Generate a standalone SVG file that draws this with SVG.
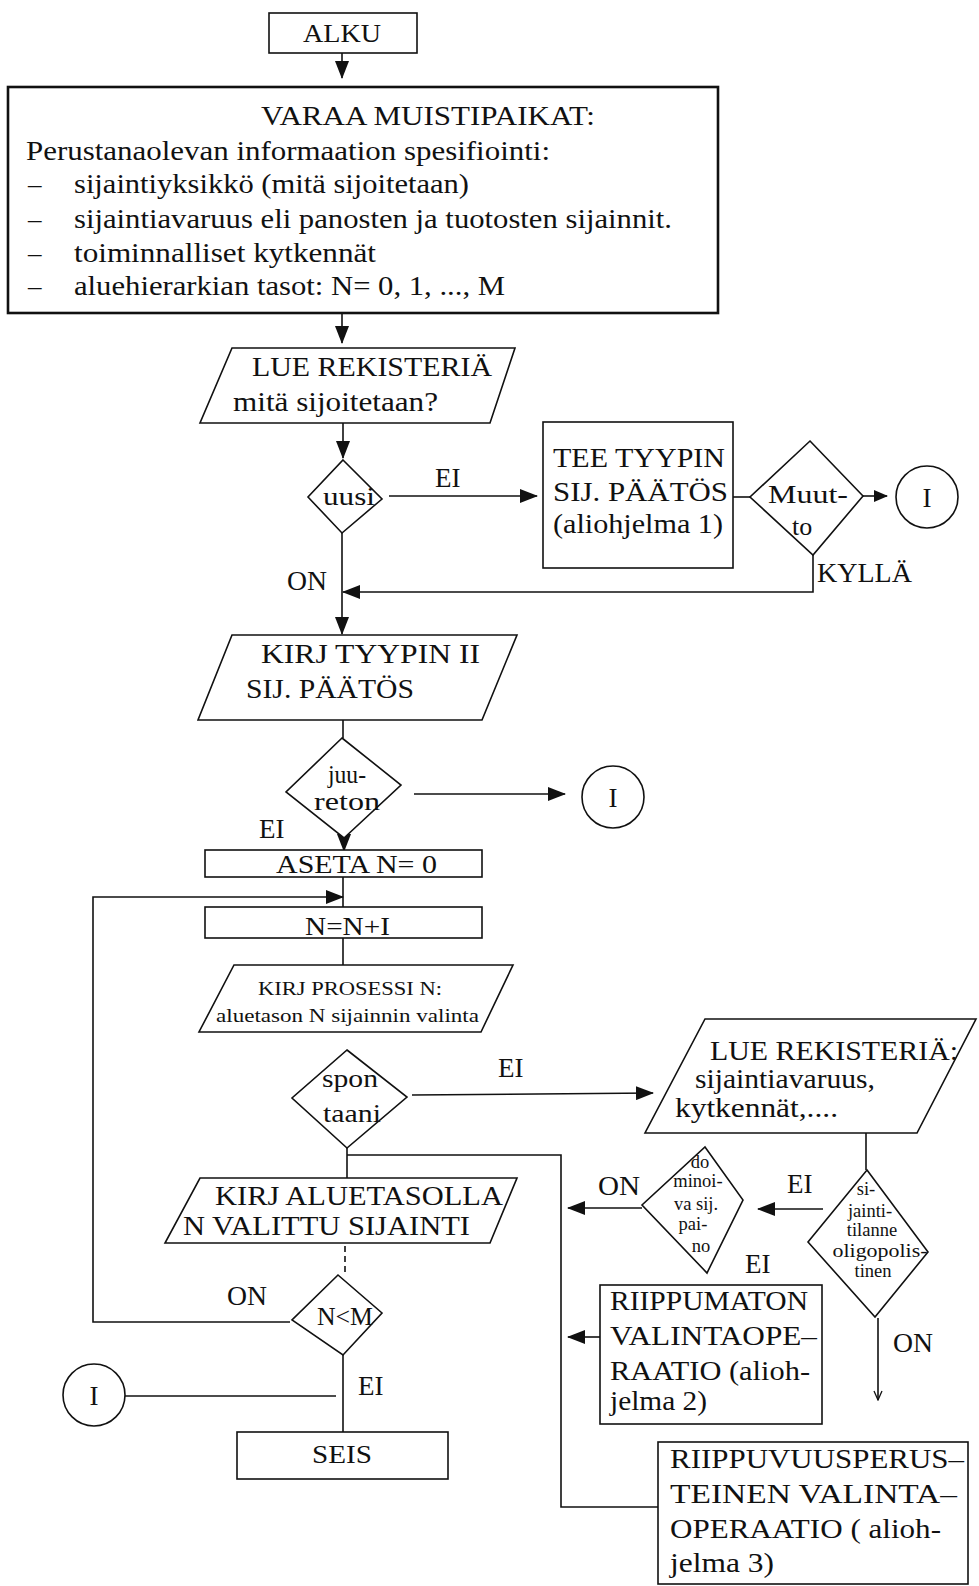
<svg xmlns="http://www.w3.org/2000/svg" width="979" height="1586" viewBox="0 0 979 1586">
<style>
text{font-family:"Liberation Serif","Times New Roman",serif;fill:#111;}
.n{fill:#fff;stroke:#111;stroke-width:1.6;}
.th{fill:#fff;stroke:#111;stroke-width:2.6;}
.c{fill:none;stroke:#111;stroke-width:1.6;}
.f25{font-size:27px;}
.f24{font-size:26px;}
.f26{font-size:27px;}
.f18{font-size:19px;}
.f17{font-size:18.5px;}
.mid{text-anchor:middle;}
</style>
<defs>
<marker id="ah" markerUnits="userSpaceOnUse" markerWidth="18" markerHeight="14" refX="17" refY="7" orient="auto">
<path d="M0,0 L18,7 L0,14 z" fill="#111"/>
</marker>
<marker id="ahs" markerUnits="userSpaceOnUse" markerWidth="14" markerHeight="12" refX="13" refY="6" orient="auto">
<path d="M0,0 L14,6 L0,12 z" fill="#111"/>
</marker>
<marker id="thin" markerUnits="userSpaceOnUse" markerWidth="10" markerHeight="12" refX="5" refY="11" orient="0">
<path d="M1,2 L5,11 L9,2" fill="none" stroke="#111" stroke-width="1.3"/>
</marker>
</defs>
<rect width="979" height="1586" fill="#fff"/>

<g id="connectors">
<line class="c" x1="342" y1="53" x2="342" y2="78" marker-end="url(#ah)"/>
<line class="c" x1="342" y1="313" x2="342" y2="343" stroke-width="2.2" marker-end="url(#ah)"/>
<line class="c" x1="343" y1="423" x2="343" y2="458" marker-end="url(#ah)"/>
<line class="c" x1="389" y1="496" x2="537" y2="496" marker-end="url(#ah)"/>
<line class="c" x1="733" y1="497" x2="750" y2="497"/>
<line class="c" x1="863" y1="496" x2="887" y2="496" marker-end="url(#ahs)"/>
<polyline class="c" points="813,555 813,592 343,592" marker-end="url(#ah)"/>
<line class="c" x1="342" y1="533" x2="342" y2="634" stroke-width="2" marker-end="url(#ah)"/>
<line class="c" x1="343" y1="720" x2="343" y2="738" stroke-width="1"/>
<line class="c" x1="414" y1="794" x2="565" y2="794" marker-end="url(#ah)"/>
<line class="c" x1="344" y1="832" x2="344" y2="851" marker-end="url(#ah)"/>
<line class="c" x1="343" y1="877" x2="343" y2="907"/>
<polyline class="c" points="290,1322 93,1322 93,897 343,897" marker-end="url(#ah)"/>
<line class="c" x1="343" y1="938" x2="343" y2="965"/>
<line class="c" x1="412" y1="1095" x2="653" y2="1093" marker-end="url(#ah)"/>
<line class="c" x1="347" y1="1148" x2="347" y2="1178"/>
<polyline class="c" points="347,1155 561,1155 561,1507 658,1507"/>
<line class="c" x1="345" y1="1246" x2="345" y2="1275" stroke-width="1.2" stroke-dasharray="6,4"/>
<line class="c" x1="343" y1="1355" x2="343" y2="1432" stroke-width="1.3"/>
<line class="c" x1="125" y1="1396" x2="336" y2="1396"/>
<line class="c" x1="866" y1="1133" x2="866" y2="1170"/>
<line class="c" x1="823" y1="1209" x2="758" y2="1209" stroke-width="3" marker-end="url(#ah)"/>
<line class="c" x1="642" y1="1208" x2="568" y2="1208" marker-end="url(#ah)"/>
<line class="c" x1="600" y1="1337" x2="568" y2="1337" marker-end="url(#ah)"/>
<line class="c" x1="878" y1="1318" x2="878" y2="1400" stroke-width="1.3" marker-end="url(#thin)"/>
</g>

<g id="alku">
<rect class="n" x="269" y="13" width="148" height="40"/>
<text class="f24" x="303" y="42" textLength="78" lengthAdjust="spacingAndGlyphs">ALKU</text>
</g>

<g id="varaa">
<rect class="th" x="8" y="87" width="710" height="226"/>
<text class="f25" x="261" y="125" textLength="334" lengthAdjust="spacingAndGlyphs">VARAA MUISTIPAIKAT:</text>
<text class="f25" x="26" y="160" textLength="524" lengthAdjust="spacingAndGlyphs">Perustanaolevan informaation spesifiointi:</text>
<text class="f25" x="28" y="193">–</text>
<text class="f25" x="74" y="193" textLength="395" lengthAdjust="spacingAndGlyphs">sijaintiyksikkö (mitä sijoitetaan)</text>
<text class="f25" x="28" y="228">–</text>
<text class="f25" x="74" y="228" textLength="598" lengthAdjust="spacingAndGlyphs">sijaintiavaruus eli panosten ja tuotosten sijainnit.</text>
<text class="f25" x="28" y="262">–</text>
<text class="f25" x="74" y="262" textLength="302" lengthAdjust="spacingAndGlyphs">toiminnalliset kytkennät</text>
<text class="f25" x="28" y="295">–</text>
<text class="f25" x="74" y="295" textLength="431" lengthAdjust="spacingAndGlyphs">aluehierarkian tasot: N= 0, 1, ..., M</text>
</g>

<g id="lue1">
<polygon class="n" points="232,348 515,348 490,423 200,423"/>
<text class="f25" x="252" y="376" textLength="240" lengthAdjust="spacingAndGlyphs">LUE REKISTERIÄ</text>
<text class="f25" x="233" y="411" textLength="205" lengthAdjust="spacingAndGlyphs">mitä sijoitetaan?</text>
</g>

<g id="uusi">
<polygon class="n" stroke-width="2.4" points="343,460 382,499 342,533 308,497"/>
<text class="f24" x="323" y="505" textLength="52" lengthAdjust="spacingAndGlyphs">uusi</text>
</g>

<g id="tee">
<rect class="n" stroke-width="1.3" x="543" y="422" width="190" height="146"/>
<text class="f25" x="553" y="467" textLength="172" lengthAdjust="spacingAndGlyphs">TEE TYYPIN</text>
<text class="f25" x="553" y="501" textLength="175" lengthAdjust="spacingAndGlyphs">SIJ. PÄÄTÖS</text>
<text class="f25" x="553" y="533" textLength="170" lengthAdjust="spacingAndGlyphs">(aliohjelma 1)</text>
</g>

<g id="muutto">
<polygon class="n" stroke-width="1.3" points="810,441 863,496 813,555 750,497"/>
<text class="f24" x="768" y="503" textLength="80" lengthAdjust="spacingAndGlyphs">Muut-</text>
<text class="f24" x="792" y="535">to</text>
</g>

<g id="i1">
<circle class="n" stroke-width="1.3" cx="927" cy="497" r="31"/>
<text class="f26 mid" x="927" y="507">I</text>
</g>

<g id="kirj1">
<polygon class="n" points="232,635 517,635 482,720 198,720"/>
<text class="f25" x="261" y="663" textLength="219" lengthAdjust="spacingAndGlyphs">KIRJ  TYYPIN II</text>
<text class="f25" x="246" y="698" textLength="168" lengthAdjust="spacingAndGlyphs">SIJ. PÄÄTÖS</text>
</g>

<g id="juureton">
<polygon class="n" stroke-width="1.4" points="342,738 401,785 344,838 286,792"/>
<text class="f24" x="328" y="783" textLength="38" lengthAdjust="spacingAndGlyphs">juu-</text>
<text class="f24" x="314" y="810" textLength="66" lengthAdjust="spacingAndGlyphs">reton</text>
</g>

<g id="i2">
<circle class="n" stroke-width="1.3" cx="613" cy="797" r="31"/>
<text class="f26 mid" x="613" y="807">I</text>
</g>

<g id="aseta">
<rect class="n" x="205" y="850" width="277" height="27"/>
<text class="f24" x="276" y="873" textLength="161" lengthAdjust="spacingAndGlyphs">ASETA N= 0</text>
</g>

<g id="nplus">
<rect class="n" x="205" y="907" width="277" height="31"/>
<text class="f24" x="305" y="935" textLength="85" lengthAdjust="spacingAndGlyphs">N=N+I</text>
</g>

<g id="prosessi">
<polygon class="n" points="234,965 513,965 481,1032 199,1032"/>
<text class="f18" x="258" y="995" textLength="184" lengthAdjust="spacingAndGlyphs">KIRJ PROSESSI N:</text>
<text class="f18" x="216" y="1022" textLength="263" lengthAdjust="spacingAndGlyphs">aluetason N sijainnin  valinta</text>
</g>

<g id="spontaani">
<polygon class="n" stroke-width="1.4" points="347,1050 407,1097 347,1148 292,1098"/>
<text class="f24" x="322" y="1087" textLength="56" lengthAdjust="spacingAndGlyphs">spon</text>
<text class="f24" x="323" y="1122" textLength="58" lengthAdjust="spacingAndGlyphs">taani</text>
</g>

<g id="lue2">
<polygon class="n" stroke-width="2" points="705,1019 976,1019 917,1133 645,1133"/>
<text class="f25" x="710" y="1060" textLength="248" lengthAdjust="spacingAndGlyphs">LUE REKISTERIÄ:</text>
<text class="f25" x="695" y="1088" textLength="180" lengthAdjust="spacingAndGlyphs">sijaintiavaruus,</text>
<text class="f25" x="675" y="1117" textLength="163" lengthAdjust="spacingAndGlyphs">kytkennät,....</text>
</g>

<g id="dominoiva">
<polygon class="n" stroke-width="1.4" points="705,1147 743,1200 707,1273 642,1205"/>
<text class="f17 mid" x="700" y="1168">do</text>
<text class="f17 mid" x="698" y="1187">minoi-</text>
<text class="f17 mid" x="696" y="1210">va sij.</text>
<text class="f17 mid" x="693" y="1230">pai-</text>
<text class="f17 mid" x="701" y="1252">no</text>
</g>

<g id="oligo">
<polygon class="n" stroke-width="1.4" points="867,1170 928,1252 875,1317 808,1242"/>
<text class="f17 mid" x="866" y="1195">si-</text>
<text class="f17 mid" x="870" y="1217">jainti-</text>
<text class="f17 mid" x="872" y="1236">tilanne</text>
<text class="f17 mid" x="880" y="1257" textLength="95" lengthAdjust="spacingAndGlyphs">oligopolis-</text>
<text class="f17 mid" x="873" y="1277">tinen</text>
</g>

<g id="kirj2">
<polygon class="n" points="200,1178 517,1178 490,1243 165,1243"/>
<text class="f26" x="215" y="1205" textLength="288" lengthAdjust="spacingAndGlyphs">KIRJ ALUETASOLLA</text>
<text class="f26" x="183" y="1235" textLength="287" lengthAdjust="spacingAndGlyphs">N VALITTU SIJAINTI</text>
</g>

<g id="nm">
<polygon class="n" stroke-width="1.4" points="338,1275 382,1313 343,1355 292,1320"/>
<text class="f24" x="317" y="1325" textLength="56" lengthAdjust="spacingAndGlyphs">N&lt;M</text>
</g>

<g id="i3">
<circle class="n" stroke-width="1.3" cx="94" cy="1395" r="31"/>
<text class="f26 mid" x="94" y="1405">I</text>
</g>

<g id="seis">
<rect class="n" x="237" y="1432" width="211" height="47"/>
<text class="f24" x="312" y="1463" textLength="60" lengthAdjust="spacingAndGlyphs">SEIS</text>
</g>

<g id="riippumaton">
<rect class="n" stroke-width="1.8" x="600" y="1285" width="222" height="139"/>
<text class="f26" x="610" y="1310" textLength="198" lengthAdjust="spacingAndGlyphs">RIIPPUMATON</text>
<text class="f26" x="610" y="1345" textLength="207" lengthAdjust="spacingAndGlyphs">VALINTAOPE–</text>
<text class="f26" x="610" y="1380" textLength="200" lengthAdjust="spacingAndGlyphs">RAATIO (alioh-</text>
<text class="f26" x="610" y="1410" textLength="97" lengthAdjust="spacingAndGlyphs">jelma 2)</text>
</g>

<g id="riippuvuus">
<rect class="n" stroke-width="1.8" x="658" y="1442" width="310" height="142"/>
<text class="f26" x="670" y="1468" textLength="294" lengthAdjust="spacingAndGlyphs">RIIPPUVUUSPERUS–</text>
<text class="f26" x="670" y="1503" textLength="287" lengthAdjust="spacingAndGlyphs">TEINEN VALINTA–</text>
<text class="f26" x="670" y="1538" textLength="271" lengthAdjust="spacingAndGlyphs">OPERAATIO ( alioh-</text>
<text class="f26" x="670" y="1572" textLength="104" lengthAdjust="spacingAndGlyphs">jelma 3)</text>
</g>

<g id="labels">
<text class="f25" x="435" y="487">EI</text>
<text class="f25" x="287" y="590" textLength="40" lengthAdjust="spacingAndGlyphs">ON</text>
<text class="f25" x="817" y="582" textLength="95" lengthAdjust="spacingAndGlyphs">KYLLÄ</text>
<text class="f25" x="259" y="838">EI</text>
<text class="f25" x="498" y="1077">EI</text>
<text class="f25" x="787" y="1193">EI</text>
<text class="f25" x="598" y="1195" textLength="42" lengthAdjust="spacingAndGlyphs">ON</text>
<text class="f25" x="745" y="1273">EI</text>
<text class="f25" x="893" y="1352" textLength="40" lengthAdjust="spacingAndGlyphs">ON</text>
<text class="f25" x="227" y="1305" textLength="40" lengthAdjust="spacingAndGlyphs">ON</text>
<text class="f25" x="358" y="1395">EI</text>
</g>
</svg>
